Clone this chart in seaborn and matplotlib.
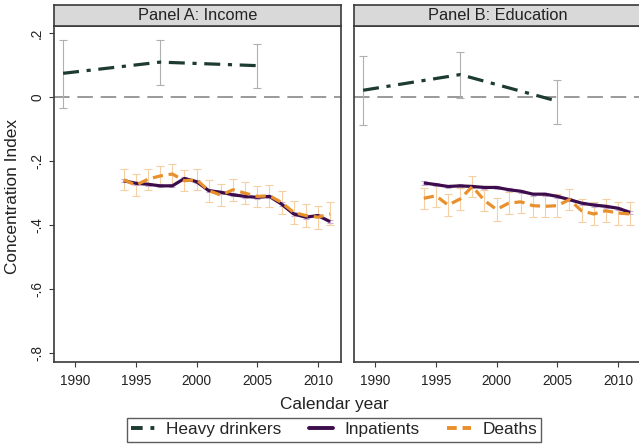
import numpy as np
import pandas as pd
import matplotlib
matplotlib.use("Agg")
import matplotlib.pyplot as plt
import seaborn as sns
from matplotlib.lines import Line2D

sns.set_theme(style="white")
plt.rcParams['font.family'] = ['Liberation Sans', 'DejaVu Sans']

# ---------------- data ----------------
panels = ["Panel A: Income", "Panel B: Education"]

heavy_years = [1989, 1997, 2005]
heavy_A = [0.075, 0.110, 0.099]
heavy_A_lo = [-0.034, 0.037, 0.030]
heavy_A_hi = [0.180, 0.180, 0.166]
heavy_B = [0.022, 0.071, -0.012]
heavy_B_lo = [-0.087, -0.002, -0.082]
heavy_B_hi = [0.128, 0.141, 0.053]

years = list(range(1994, 2012))
inpat_A = [-0.261, -0.269, -0.272, -0.277, -0.277, -0.254, -0.264, -0.292, -0.297,
           -0.305, -0.310, -0.313, -0.310, -0.334, -0.365, -0.375, -0.370, -0.389]
deaths_A = [-0.258, -0.275, -0.256, -0.246, -0.240, -0.261, -0.258, -0.292, -0.306,
            -0.289, -0.300, -0.310, -0.308, -0.329, -0.360, -0.370, -0.375, -0.365]
inpat_B = [-0.268, -0.273, -0.279, -0.277, -0.279, -0.282, -0.282, -0.289, -0.294,
           -0.303, -0.303, -0.310, -0.320, -0.331, -0.337, -0.341, -0.347, -0.360]
deaths_B = [-0.316, -0.308, -0.337, -0.318, -0.279, -0.323, -0.351, -0.331, -0.327,
            -0.339, -0.341, -0.339, -0.320, -0.355, -0.365, -0.355, -0.362, -0.365]
deaths_A_err = [0.033, 0.034, 0.033, 0.032, 0.032, 0.033, 0.033, 0.034, 0.035,
                0.034, 0.034, 0.034, 0.034, 0.035, 0.036, 0.036, 0.036, 0.036]
deaths_B_err = [0.033, 0.034, 0.034, 0.033, 0.033, 0.034, 0.035, 0.034, 0.035,
                0.035, 0.035, 0.035, 0.034, 0.036, 0.036, 0.036, 0.036, 0.036]
inpat_err = [0.005] * 18

xticks = [1990, 1995, 2000, 2005, 2010]
yticks = [-0.8, -0.6, -0.4, -0.2, 0.0, 0.2]
ytick_labels = ["-.8", "-.6", "-.4", "-.2", "0", ".2"]

series_names = ["Heavy drinkers", "Inpatients", "Deaths"]
colors = {"Heavy drinkers": "#1d3b30", "Inpatients": "#3c0c4c", "Deaths": "#e8902c"}
dashes = {"Heavy drinkers": (5, 2.4, 1.3, 2.4), "Inpatients": "", "Deaths": (3.2, 1.8)}

# ---------------- figure ----------------
W, H = 639, 447
fig = plt.figure(figsize=(W / 100, H / 100), dpi=100)
fig.patch.set_facecolor("white")

def fx(px):
    return px / W

def fy(py):
    return 1 - py / H

ax_top, ax_bot = 26, 362
strip_top = 5
panel_lefts = [54, 354]
panel_w = 287

data_sets = [
    (heavy_A, heavy_A_lo, heavy_A_hi, inpat_A, deaths_A, deaths_A_err),
    (heavy_B, heavy_B_lo, heavy_B_hi, inpat_B, deaths_B, deaths_B_err),
]

spine_col = "#3a3a3a"
for i, (title, left) in enumerate(zip(panels, panel_lefts)):
    ax = fig.add_axes([fx(left), fy(ax_bot), panel_w / W, (ax_bot - ax_top) / H])
    hv, hlo, hhi, ip, de, de_err = data_sets[i]

    # zero reference line
    ax.axhline(0, color="#9a9a9a", lw=1.4, dashes=(8, 4), zorder=1)

    # error bars
    hv_arr = np.array(hv)
    ax.errorbar(heavy_years, hv, yerr=[hv_arr - np.array(hlo), np.array(hhi) - hv_arr],
                fmt="none", ecolor="#b0b0b0", elinewidth=0.8, capsize=3, capthick=0.8, zorder=2)
    ax.errorbar(years, de, yerr=de_err, fmt="none", ecolor="#f6cfa3",
                elinewidth=0.8, capsize=3, capthick=0.8, zorder=2)
    ax.errorbar(years, ip, yerr=inpat_err, fmt="none", ecolor="#cdb0d6",
                elinewidth=0.8, capsize=2.5, capthick=0.8, zorder=2)

    df = pd.concat([
        pd.DataFrame({"year": heavy_years, "ci": hv, "series": "Heavy drinkers"}),
        pd.DataFrame({"year": years, "ci": ip, "series": "Inpatients"}),
        pd.DataFrame({"year": years, "ci": de, "series": "Deaths"}),
    ], ignore_index=True)
    sns.lineplot(data=df, x="year", y="ci", hue="series", style="series",
                 hue_order=series_names, style_order=series_names,
                 palette=colors, dashes=dashes, lw=2.3, legend=False, ax=ax,
                 estimator=None, sort=True, zorder=3)
    for ln in ax.get_lines():
        ln.set_solid_capstyle("butt")

    ax.set_xlim(1988.25, 2011.9)
    ax.set_ylim(-0.828, 0.223)
    ax.set_xticks(xticks)
    ax.set_xticklabels([str(x) for x in xticks], fontsize=9.8, color="#222222")
    ax.set_yticks(yticks)
    if i == 0:
        ax.set_yticklabels(ytick_labels, fontsize=9.8, rotation=90, va="center", color="#222222")
        ax.tick_params(axis="y", length=3.6, width=0.8, color=spine_col, pad=3.5, left=True)
    else:
        ax.set_yticklabels([])
        ax.tick_params(axis="y", length=0, left=False)
    ax.tick_params(axis="x", length=3.6, width=0.8, color=spine_col, pad=5, bottom=True)
    ax.set_xlabel("")
    ax.set_ylabel("")
    ax.set_facecolor("white")
    for s in ax.spines.values():
        s.set_color(spine_col)
        s.set_linewidth(1.2)
        s.set_visible(True)

    # strip header
    sax = fig.add_axes([fx(left), fy(ax_top), panel_w / W, (ax_top - strip_top) / H])
    sax.set_facecolor("#d9d9d9")
    sax.set_xticks([])
    sax.set_yticks([])
    for s in sax.spines.values():
        s.set_color(spine_col)
        s.set_linewidth(1.2)
    sax.text(0.5, 0.5, title, ha="center", va="center",
             fontsize=11.8, color="#222222", transform=sax.transAxes)

fig.text(fx(334), fy(404), "Calendar year", ha="center", va="center",
         fontsize=12.4, color="#222222")
fig.text(fx(13), fy(196), "Concentration Index", ha="center", va="center",
         rotation=90, fontsize=12.4, color="#222222")

handles = [Line2D([0], [0], color=colors[n], lw=2.8) for n in series_names]
handles[0].set_dashes((3, 2, 1, 2))
handles[2].set_dashes((2.5, 1.5))
leg = fig.legend(handles, series_names, loc="upper center",
                 bbox_to_anchor=(fx(334), fy(418)), ncol=3, frameon=True,
                 fancybox=False, edgecolor="#333333", fontsize=12.4,
                 handlelength=1.4, handletextpad=0.65, columnspacing=1.6,
                 borderpad=0.25, borderaxespad=0)
leg.get_frame().set_linewidth(1.0)

fig.savefig("out.png", dpi=100, facecolor="white")
